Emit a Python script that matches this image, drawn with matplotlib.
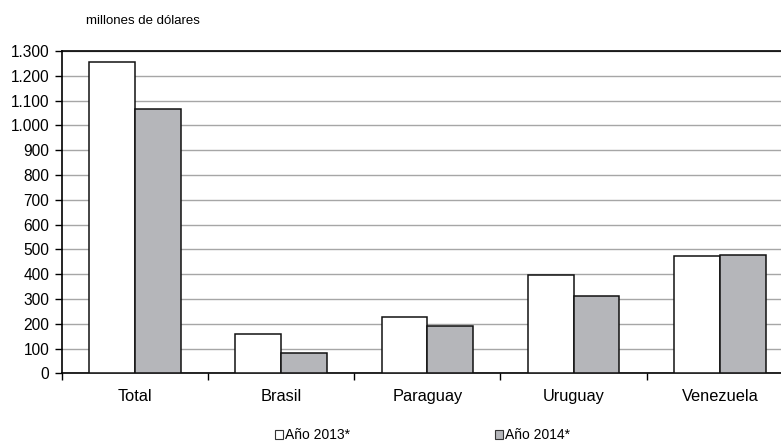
import numpy as np
import matplotlib.pyplot as plt
from matplotlib.patches import Patch
from matplotlib.ticker import FuncFormatter

plt.rcParams['font.family'] = ['Liberation Sans', 'DejaVu Sans']

categories = ["Total", "Brasil", "Paraguay", "Uruguay", "Venezuela"]
anio_2013 = [1254, 157, 226, 395, 473]
anio_2014 = [1068, 83, 193, 311, 478]
series_labels = ["Año 2013*", "Año 2014*"]

fig = plt.figure(figsize=(7.81, 4.45), dpi=100)
ax = fig.add_axes([0.079, 0.161, 0.9364, 0.7243])

x = np.arange(len(categories))
w = 0.313
ax.bar(x - w/2, anio_2013, w, color="white", edgecolor="#111111", linewidth=1.1, zorder=3)
ax.bar(x + w/2, anio_2014, w, color="#b5b6ba", edgecolor="#111111", linewidth=1.1, zorder=3)

ax.set_xlim(-0.5, len(categories) - 0.5)
ax.set_ylim(0, 1300)
ax.set_yticks(np.arange(0, 1301, 100))
ax.yaxis.set_major_formatter(FuncFormatter(lambda v, p: f"{int(v):,}".replace(",", ".")))
ax.grid(axis="y", color="#a6a6a6", linewidth=1.0, zorder=0)

ax.set_xticks(np.arange(-0.5, len(categories), 1.0))
ax.set_xticklabels([])
ax.set_xticks(x, minor=True)
ax.set_xticklabels(categories, minor=True)
ax.tick_params(axis="x", which="minor", length=0, pad=11, labelsize=11.8)
ax.tick_params(axis="x", which="major", length=5, width=1, color="black")
ax.tick_params(axis="y", length=5, width=1, labelsize=11.2, pad=4)

for s in ["left", "bottom", "top"]:
    ax.spines[s].set_color("black")
    ax.spines[s].set_linewidth(1.2)
ax.spines["right"].set_visible(False)

fig.text(0.110, 0.953, "millones de dólares", fontsize=9.5, ha="left", va="center")

handles = [Patch(facecolor="white", edgecolor="#333333", linewidth=0.8),
           Patch(facecolor="#b5b6ba", edgecolor="#333333", linewidth=0.8)]
fig.legend(handles, series_labels, loc="center", bbox_to_anchor=(0.541, 0.022),
           ncol=2, frameon=False, fontsize=10, handlelength=0.6, handleheight=0.6,
           handletextpad=0.15, columnspacing=10.4, borderpad=0)

fig.savefig("out.png", dpi=100)
